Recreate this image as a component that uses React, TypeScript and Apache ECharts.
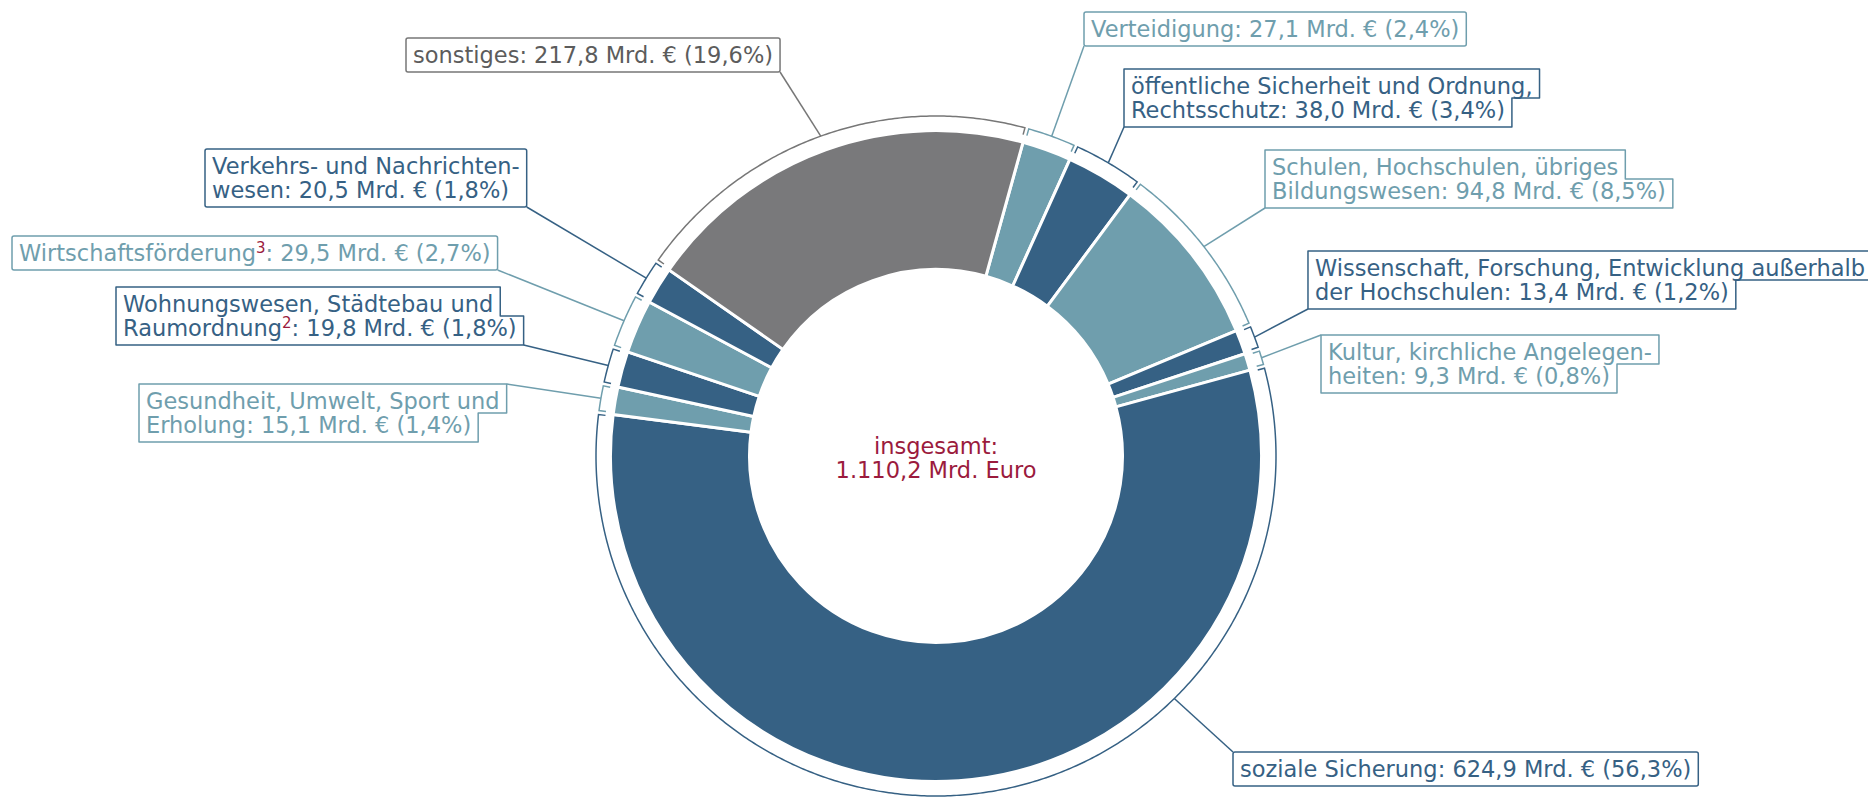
import React, { useEffect, useRef } from "react";
import * as echarts from "echarts";

// ---------- data ----------
const categories = [
  "Verteidigung",
  "öffentliche Sicherheit und Ordnung,\nRechtsschutz",
  "Schulen, Hochschulen, übriges\nBildungswesen",
  "Wissenschaft, Forschung, Entwicklung außerhalb\nder Hochschulen",
  "Kultur, kirchliche Angelegen-\nheiten",
  "soziale Sicherung",
  "Gesundheit, Umwelt, Sport und\nErholung",
  "Wohnungswesen, Städtebau und\nRaumordnung",
  "Wirtschaftsförderung",
  "Verkehrs- und Nachrichten-\nwesen",
  "sonstiges",
];
const footnotes = ["", "", "", "", "", "", "", "2", "3", "", ""];
const values = [27.1, 38.0, 94.8, 13.4, 9.3, 624.9, 15.1, 19.8, 29.5, 20.5, 217.8];
const tones = ["teal", "dark", "teal", "dark", "teal", "dark", "teal", "dark", "teal", "dark", "grey"];
const centerTitle = "insgesamt:";
const unitShort = "Mrd. €";
const unitLong = "Mrd. Euro";

// ---------- layout / style ----------
const W = 1868;
const H = 797;
const CX = 936;
const CY = 456;
const R_IN = 188;
const R_OUT = 324;
const BORDER = 3;
const R_BR = 340;
const TICK = 7;
const INSET = 2;
const START = 74.5;
const FONT = '"DejaVu Sans", Verdana, sans-serif';
const FS = 22.5;
const FS_SUP = 15;
const LH = 24;
const PADX = 7;
const PADY = 5;
const CRIMSON = "#9b1b3d";

const SLICE: Record<string, string> = { dark: "#366184", teal: "#6f9ead", grey: "#79797b" };
const STROKE: Record<string, string> = { dark: "#366184", teal: "#6f9ead", grey: "#777777" };
const TEXT: Record<string, string> = { dark: "#366184", teal: "#6f9ead", grey: "#5c5c5c" };

type Pos = { x: number; y: number; corner: "tl" | "tr" | "bl" | "br"; attach?: number };
const labelPos: Pos[] = [
  { x: 1084, y: 12, corner: "bl" },
  { x: 1124, y: 69, corner: "bl" },
  { x: 1265, y: 150, corner: "bl" },
  { x: 1322, y: 251, corner: "bl" },
  { x: 1321, y: 335, corner: "tl" },
  { x: 1233, y: 752, corner: "tl", attach: 0.3 },
  { x: 139, y: 384, corner: "tr" },
  { x: 116, y: 287, corner: "br" },
  { x: 12, y: 236, corner: "br" },
  { x: 205, y: 149, corner: "br" },
  { x: 406, y: 38, corner: "br" },
];

// ---------- helpers ----------
function fmt(v: number): string {
  const s = v.toFixed(1);
  const [int, dec] = s.split(".");
  const withSep = int.replace(/\B(?=(\d{3})+(?!\d))/g, ".");
  return `${withSep},${dec}`;
}

const total = values.reduce((a, b) => a + b, 0);
const cum: number[] = [];
{
  let acc = 0;
  values.forEach((v) => {
    cum.push(acc);
    acc += v;
  });
}
const theta0 = 90 - START;
function angles(i: number): [number, number] {
  const a0 = theta0 + (cum[i] / total) * 360;
  return [a0, a0 + (values[i] / total) * 360];
}
function pt(r: number, deg: number): [number, number] {
  const t = (deg * Math.PI) / 180;
  return [CX + r * Math.sin(t), CY - r * Math.cos(t)];
}

let measureCtx: CanvasRenderingContext2D | null = null;
function tw(text: string, size: number): number {
  if (!measureCtx) measureCtx = document.createElement("canvas").getContext("2d");
  measureCtx!.font = `${size}px "DejaVu Sans"`;
  return measureCtx!.measureText(text).width;
}

type Seg = { t: string; sup: boolean };
function labelLines(i: number): Seg[][] {
  const nameLines = categories[i].split("\n");
  const tail = `: ${fmt(values[i])} ${unitShort} (${fmt((values[i] / total) * 100)}%)`;
  return nameLines.map((ln, k) => {
    if (k < nameLines.length - 1) return [{ t: ln, sup: false }];
    const segs: Seg[] = [{ t: ln, sup: false }];
    if (footnotes[i]) segs.push({ t: footnotes[i], sup: true });
    segs.push({ t: tail, sup: false });
    return segs;
  });
}

function textEl(text: string, x: number, y: number, size: number, fill: string) {
  return {
    type: "text",
    x,
    y,
    style: {
      text,
      fill,
      fontSize: size,
      fontFamily: FONT,
      align: "left",
      verticalAlign: "middle",
      textAlign: "left",
      textVerticalAlign: "middle",
    },
  };
}

function renderItem(params: any) {
  const i = params.dataIndex;
  const tone = tones[i];
  const stroke = STROKE[tone];
  const [a0, a1] = angles(i);
  const d = ((INSET / R_BR) * 180) / Math.PI;

  // bracket
  const pts: number[][] = [pt(R_BR - TICK, a0 + d)];
  const n = Math.max(2, Math.ceil((a1 - a0) / 0.5));
  for (let k = 0; k <= n; k++) pts.push(pt(R_BR, a0 + d + ((a1 - a0 - 2 * d) * k) / n));
  pts.push(pt(R_BR - TICK, a1 - d));

  // label box
  const lp = labelPos[i];
  const lines = labelLines(i);
  const textW = lines.map((segs) => segs.reduce((s, g) => s + tw(g.t, g.sup ? FS_SUP : FS), 0));
  const widths = textW.map((w) => w + 2 * PADX);
  const nL = lines.length;
  const hBox = nL * LH + 2 * PADY;
  const maxText = Math.max(...textW);
  const x = Math.min(lp.x, W - 3 - PADX - maxText);
  const y = lp.y;
  let box: any;
  let corners: Record<string, number[]>;
  if (nL === 1 || Math.abs(widths[0] - widths[1]) < 12) {
    const w = Math.max(...widths);
    box = {
      type: "rect",
      shape: { x, y, width: w, height: hBox, r: 2 },
      style: { fill: "#fff", stroke, lineWidth: 1.5 },
    };
    corners = { tl: [x, y], tr: [x + w, y], bl: [x, y + hBox], br: [x + w, y + hBox] };
  } else {
    const ym = y + PADY + LH;
    const w0 = widths[0];
    const w1 = widths[1];
    box = {
      type: "polygon",
      shape: {
        points: [
          [x, y],
          [x + w0, y],
          [x + w0, ym],
          [x + w1, ym],
          [x + w1, y + hBox],
          [x, y + hBox],
        ],
      },
      style: { fill: "#fff", stroke, lineWidth: 1.5, lineJoin: "round" },
    };
    corners = { tl: [x, y], tr: [x + w0, y], bl: [x, y + hBox], br: [x + w1, y + hBox] };
  }
  const c = corners[lp.corner];
  const frac = lp.attach ?? 0.5;
  const ap = pt(R_BR, a0 + (a1 - a0) * frac);

  const texts: any[] = [];
  lines.forEach((segs, k) => {
    const cy = y + PADY + LH * k + LH / 2;
    let cx = x + PADX;
    segs.forEach((g) => {
      if (g.sup) {
        texts.push(textEl(g.t, cx, cy - 5, FS_SUP, CRIMSON));
        cx += tw(g.t, FS_SUP);
      } else {
        texts.push(textEl(g.t, cx, cy, FS, TEXT[tone]));
        cx += tw(g.t, FS);
      }
    });
  });

  return {
    type: "group",
    children: [
      {
        type: "polyline",
        shape: { points: pts },
        style: { stroke, lineWidth: 1.5, fill: "none" },
      },
      {
        type: "line",
        shape: { x1: ap[0], y1: ap[1], x2: c[0], y2: c[1] },
        style: { stroke, lineWidth: 1.5 },
      },
      box,
      ...texts,
    ],
  };
}

export default function App() {
  const ref = useRef<HTMLDivElement>(null);
  useEffect(() => {
    const el = ref.current!;
    const chart = echarts.init(el, null, { renderer: "svg" });
    const option: any = {
      animation: false,
      backgroundColor: "#ffffff",
      series: [
        {
          type: "pie",
          center: [CX, CY],
          radius: [R_IN - BORDER / 2, R_OUT + BORDER / 2],
          startAngle: START,
          clockwise: true,
          silent: true,
          avoidLabelOverlap: false,
          label: { show: false },
          labelLine: { show: false },
          emphasis: { disabled: true },
          itemStyle: { borderColor: "#ffffff", borderWidth: BORDER },
          data: values.map((v, i) => ({
            value: v,
            name: categories[i].replace("\n", " "),
            itemStyle: { color: SLICE[tones[i]] },
          })),
        },
        {
          type: "custom",
          coordinateSystem: "none",
          silent: true,
          z: 5,
          data: values.map((v) => [v]),
          renderItem,
        },
      ],
      graphic: [
        {
          type: "text",
          x: CX,
          y: CY + 2,
          z: 10,
          style: {
            text: `${centerTitle}\n${fmt(total)} ${unitLong}`,
            fill: CRIMSON,
            fontSize: FS,
            fontFamily: FONT,
            lineHeight: LH,
            align: "center",
            verticalAlign: "middle",
            textAlign: "center",
            textVerticalAlign: "middle",
          },
        },
      ],
    };
    chart.setOption(option);
    return () => chart.dispose();
  }, []);
  return (
    <div
      ref={ref}
      style={{ position: "fixed", left: 0, top: 0, width: W, height: H, background: "#fff" }}
    />
  );
}
